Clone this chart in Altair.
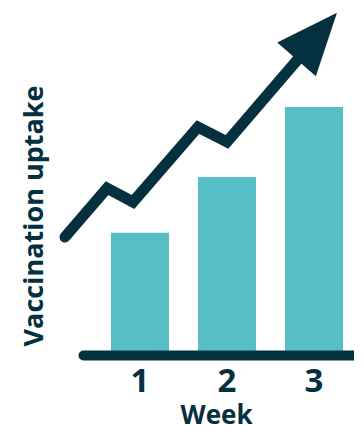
import altair as alt
import pandas as pd

# ---- data ----
weeks = ["1", "2", "3"]
uptake = [35.2, 51.3, 71.5]

# trend arrow (x in week units, y on same 0-100 scale as bars)
trend_week = [0.138, 0.621, 0.920, 1.667, 2.0, 2.839]
trend_level = [34.0, 48.1, 44.1, 65.7, 61.4, 85.9]
head_week = [3.032]
head_level = [91.9]

NAVY = "#04303f"
TEAL = "#57bec6"
FONT = "Open Sans"

bars_df = pd.DataFrame({"Week": weeks, "Uptake": uptake})
trend_df = pd.DataFrame({"w": trend_week, "v": trend_level})
head_df = pd.DataFrame({"w": head_week, "v": head_level})

yscale = alt.Scale(domain=[0, 100], nice=False, zero=True)
xq = alt.Scale(domain=[0.345, 3.460], nice=False, zero=False)

bars = alt.Chart(bars_df).mark_bar(color=TEAL).encode(
    x=alt.X(
        "Week:O",
        scale=alt.Scale(paddingInner=1 / 3, paddingOuter=0.224, align=0.718),
        axis=alt.Axis(
            title="Week", labelAngle=0, ticks=False, tickSize=0, labelPadding=10,
            labelFont=FONT, labelFontSize=33, labelFontWeight="bold", labelColor=NAVY,
            domainColor=NAVY, domainWidth=10, domainCap="round",
            titleFont=FONT, titleFontSize=26, titleFontWeight="bold", titleColor=NAVY,
            titleX=133, titleY=68, titleBaseline="alphabetic", titleAlign="center",
            zindex=1,
        ),
    ),
    y=alt.Y(
        "Uptake:Q",
        scale=yscale,
        axis=alt.Axis(
            title="Vaccination uptake", labels=False, ticks=False, domain=False, grid=False,
            titleFont=FONT, titleFontSize=27, titleFontWeight="bold", titleColor=NAVY,
            titleX=-41, titleY=207.5, titleBaseline="alphabetic", titleAngle=270,
            titleAlign="center",
        ),
    ),
)

line = alt.Chart(trend_df).mark_line(
    color=NAVY, strokeWidth=11, strokeCap="round", strokeJoin="miter"
).encode(
    x=alt.X("w:Q", scale=xq, axis=None),
    y=alt.Y("v:Q", scale=yscale, axis=None),
)

head = alt.Chart(head_df).mark_point(
    shape="M0,-1L0.83,1L-0.83,1Z", filled=True, size=3800, angle=41,
    color=NAVY, opacity=1, strokeWidth=0,
).encode(
    x=alt.X("w:Q", scale=xq, axis=None),
    y=alt.Y("v:Q", scale=yscale, axis=None),
)

chart = (
    alt.layer(bars, line, head)
    .resolve_scale(x="independent", y="independent")
    .properties(
        width=271, height=347,
        autosize=alt.AutoSizeParams(type="none"),
        padding={"left": 75, "top": 0, "right": 0, "bottom": 70},
        background="white",
    )
    .configure_view(stroke=None)
)

chart.save("out.html", embed_options={"renderer": "svg", "actions": False})
